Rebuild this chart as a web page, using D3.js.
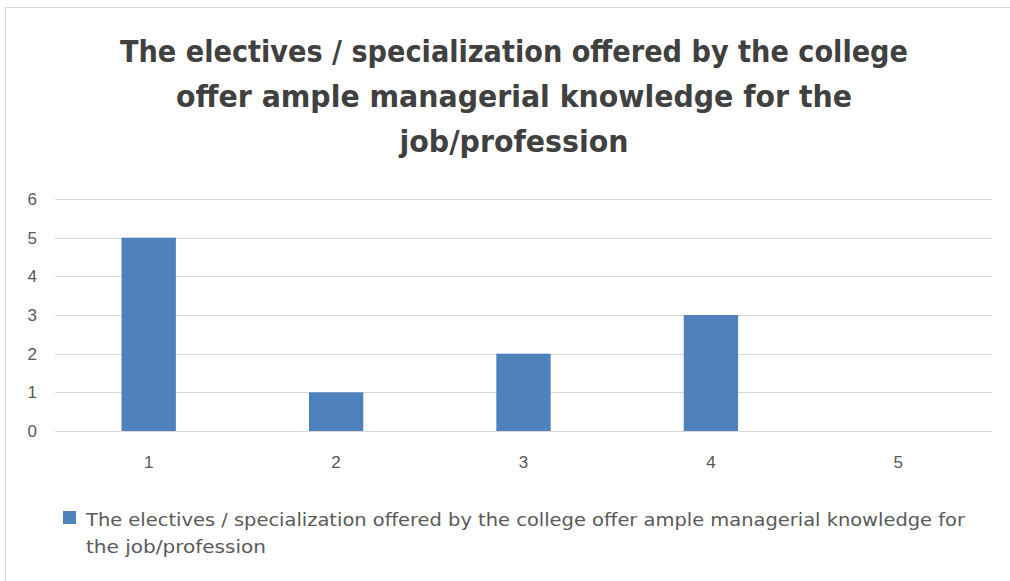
<!DOCTYPE html>
<html>
<head>
<meta charset="utf-8">
<script src="https://cdn.jsdelivr.net/npm/d3@7"></script>
<style>
  body { margin: 0; background: #fff; }
  svg { display: block; }
  text { font-family: "Liberation Sans Narrow", "DejaVu Sans Condensed", "Open Sans", sans-serif; }
</style>
</head>
<body>
<svg id="chart" width="1010" height="581"></svg>
<script>
// chart data
const categories = ["1", "2", "3", "4", "5"];
const values = [5, 1, 2, 3, 0];
const yTicks = [0, 1, 2, 3, 4, 5, 6];
const titleLines = [
  "The electives / specialization offered by the college",
  "offer ample managerial knowledge for the",
  "job/profession"
];
const legendLines = [
  "The electives / specialization offered by the college offer ample managerial knowledge for",
  "the job/profession"
];

let svg = d3.select("#chart");

// outer frame
svg.append("rect")
  .attr("x", 5.5).attr("y", 7.5)
  .attr("width", 1010).attr("height", 600)
  .attr("fill", "#fff")
  .attr("stroke", "#d9d9d9");

// title, each line stretched to the width seen in the picture
const titleWidths = [788, 676, 229];
svg.append("g").selectAll("text")
  .data(titleLines)
  .enter().append("text")
  .attr("x", 514)
  .attr("y", (d, i) => 62 + i * 45)
  .attr("text-anchor", "middle")
  .attr("font-size", 31)
  .attr("font-weight", "bold")
  .attr("fill", "#404040")
  .attr("textLength", (d, i) => titleWidths[i])
  .attr("lengthAdjust", "spacingAndGlyphs")
  .text(d => d);

// scales
let x = d3.scaleBand()
  .domain(categories)
  .range([55, 992])
  .paddingInner(0.71)
  .paddingOuter(0.355);

let y = d3.scaleLinear()
  .domain([0, 6])
  .range([431, 199]);

// gridlines
svg.append("g")
  .selectAll("line")
  .data(yTicks)
  .enter().append("line")
  .attr("x1", 55).attr("x2", 992)
  .attr("y1", d => Math.round(y(d)) + 0.5)
  .attr("y2", d => Math.round(y(d)) + 0.5)
  .attr("stroke", "#d9d9d9")
  .attr("stroke-width", 1);

// y axis labels
let yAxis = svg.append("g")
  .attr("transform", "translate(55,0)")
  .call(d3.axisLeft(y).tickValues(yTicks).tickFormat(d3.format("d")).tickSize(0).tickPadding(18));
yAxis.select(".domain").remove();
yAxis.attr("font-size", 17);
yAxis.selectAll("text")
  .attr("fill", "#595959")
  .style("font-family", "\"Liberation Sans\", sans-serif");

// bars
svg.append("g")
  .selectAll("rect")
  .data(values)
  .enter().append("rect")
  .attr("x", (d, i) => x(categories[i]))
  .attr("y", d => y(d))
  .attr("width", x.bandwidth())
  .attr("height", d => y(0) - y(d))
  .attr("fill", "#4f81bd");

// x axis labels
let xAxis = svg.append("g")
  .attr("transform", "translate(0,431)")
  .call(d3.axisBottom(x).tickSize(0).tickPadding(25));
xAxis.select(".domain").remove();
xAxis.attr("font-size", 17);
xAxis.selectAll("text")
  .attr("fill", "#595959")
  .style("font-family", "\"Liberation Sans\", sans-serif");

// legend
svg.append("rect")
  .attr("x", 63).attr("y", 511)
  .attr("width", 13).attr("height", 13)
  .attr("fill", "#4f81bd");

const legendWidths = [879, 180];
svg.append("g").selectAll("text")
  .data(legendLines)
  .enter().append("text")
  .attr("x", 86)
  .attr("y", (d, i) => 526 + i * 27)
  .attr("font-size", 18)
  .attr("fill", "#595959")
  .attr("textLength", (d, i) => legendWidths[i])
  .attr("lengthAdjust", "spacingAndGlyphs")
  .text(d => d);
</script>
</body>
</html>
